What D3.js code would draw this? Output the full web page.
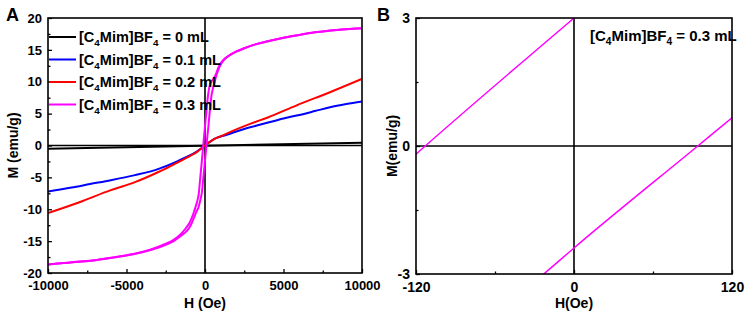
<!DOCTYPE html>
<html>
<head>
<meta charset="utf-8">
<script src="https://cdnjs.cloudflare.com/ajax/libs/d3/7.8.5/d3.min.js"></script>
<style>
body { margin: 0; background: #fff; }
text { font-family: "Liberation Sans", Arial, sans-serif; font-weight: bold; fill: #000; }
</style>
</head>
<body>
<div class="canvas"></div>
<script>
// ---- data ----
// 0 mL
const hBlack = [-10000, 10000];
const mBlack = [-0.5, 0.45];

// 0.1 mL
const hBlue = [-10000, -8500, -7320, -6000, -4460, -3000, -1700, -1000, -500, -200, 0, 200, 500, 740, 1000, 1590, 2500, 3715, 5000, 5840, 7000, 7960, 9000, 10000];
const mBlue = [-7.2, -6.6, -6.05, -5.45, -4.65, -3.7, -2.4, -1.6, -0.9, -0.4, 0, 0.4, 0.9, 1.2, 1.4, 1.85, 2.6, 3.4, 4.25, 4.7, 5.4, 6.0, 6.5, 6.9];

// 0.2 mL
const hRed = [-10000, -8000, -6000, -4460, -3000, -2000, -1700, -1000, -500, -200, 0, 200, 500, 740, 1000, 1590, 3000, 4000, 5840, 8000, 10000];
const mRed = [-10.6, -8.9, -7.0, -5.75, -4.2, -3.0, -2.6, -1.7, -1.0, -0.4, 0, 0.4, 0.9, 1.2, 1.45, 2.1, 3.5, 4.4, 6.3, 8.4, 10.45];

// 0.3 mL, descending branch (upper)
const hPinkDown = [-10000, -9000, -8000, -7000, -6000, -5000, -4000, -3000, -2500, -2000, -1500, -1200, -1000, -850, -700, -600, -500, -400, -300, -200, -113, 0, 100, 200, 300, 400, 550, 700, 850, 1000, 1200, 1500, 2000, 2500, 3000, 4000, 5000, 6000, 7000, 8000, 9000, 10000];
const mPinkDown = [-18.65, -18.45, -18.2, -18.0, -17.6, -17.2, -16.7, -15.9, -15.4, -14.8, -13.8, -12.9, -12.2, -11.4, -10.4, -9.6, -8.8, -7.6, -5.0, -2.4, 0, 3.0, 5.6, 8.0, 9.4, 10.0, 10.5, 11.2, 12.2, 12.9, 13.5, 14.05, 14.75, 15.25, 15.7, 16.35, 16.9, 17.35, 17.75, 18.05, 18.25, 18.4];

// 0.3 mL, ascending branch (lower)
const hPinkUp = [-10000, -9000, -8000, -7000, -6000, -5000, -4000, -3000, -2500, -2000, -1500, -1200, -1000, -850, -700, -550, -400, -300, -200, -100, -23, 0, 94, 120, 200, 300, 400, 500, 600, 700, 850, 1000, 1200, 1500, 2000, 2500, 3000, 4000, 5000, 6000, 7000, 8000, 9000, 10000];
const mPinkUp = [-18.65, -18.45, -18.25, -18.0, -17.65, -17.25, -16.75, -16.05, -15.6, -15.0, -14.1, -13.5, -12.9, -12.2, -11.3, -10.4, -9.6, -8.6, -7.4, -4.9, -3.0, -2.39, 0, 0.66, 2.6, 5.2, 7.6, 8.9, 9.8, 10.8, 11.9, 12.7, 13.4, 14.05, 14.75, 15.25, 15.7, 16.35, 16.9, 17.35, 17.75, 18.05, 18.25, 18.4];

const legendAmounts = ['0', '0.1', '0.2', '0.3'];

// ticks
const ticksAX = [-10000, -5000, 0, 5000, 10000];
const minorAX = [-7500, -2500, 2500, 7500];
const ticksAY = [-20, -15, -10, -5, 0, 5, 10, 15, 20];
const minorAY = [-17.5, -12.5, -7.5, -2.5, 2.5, 7.5, 12.5, 17.5];
const ticksBX = [-120, 0, 120];
const minorBX = [-60, 60];
const ticksBY = [-3, 0, 3];
const minorBY = [-1.5, 1.5];

const zip = (hs, ms) => hs.map((h, i) => ({ h, m: ms[i] }));

const series = [
	{ pts: zip(hBlack, mBlack), color: '#000000' },
	{ pts: zip(hBlue, mBlue), color: '#0000ff' },
	{ pts: zip(hRed, mRed), color: '#ff0000' },
	{ pts: zip(hPinkDown, mPinkDown), color: '#ff00ff' },
	{ pts: zip(hPinkUp, mPinkUp), color: '#ff00ff' }
];
const loop03 = series.slice(3);

const svg = d3.select('.canvas')
	.append('svg')
	.attr('width', 748)
	.attr('height', 318);

// writes "[C4Mim]BF4 = v mL" with subscripts
const formula = (sel, amount, size) => {
	const sub = size * 0.68;
	const shift = size * 0.28;
	sel.append('tspan').text('[C');
	sel.append('tspan').attr('font-size', sub).attr('dy', shift).text('4');
	sel.append('tspan').attr('dy', -shift).text('Mim]BF');
	sel.append('tspan').attr('font-size', sub).attr('dy', shift).text('4');
	sel.append('tspan').attr('dy', -shift).text(` = ${amount} mL`);
};

// plain hyphen for negatives, like the original
const plain = d => String(d);

const drawPanel = (cfg) => {
	const x = d3.scaleLinear().domain(cfg.xDomain).range([cfg.left, cfg.right]);
	const y = d3.scaleLinear().domain(cfg.yDomain).range([cfg.bottom, cfg.top]);
	const g = svg.append('g');

	g.append('clipPath').attr('id', cfg.id)
		.append('rect')
		.attr('x', cfg.left).attr('y', cfg.top)
		.attr('width', cfg.right - cfg.left).attr('height', cfg.bottom - cfg.top);

	// zero lines
	g.append('line')
		.attr('x1', x(0)).attr('x2', x(0)).attr('y1', cfg.top).attr('y2', cfg.bottom)
		.attr('stroke', '#000').attr('stroke-width', 1.6);
	g.append('line')
		.attr('x1', cfg.left).attr('x2', cfg.right).attr('y1', y(0)).attr('y2', y(0))
		.attr('stroke', '#000').attr('stroke-width', 1.6);

	const line = d3.line()
		.x(d => x(d.h))
		.y(d => y(d.m))
		.curve(d3.curveMonotoneX);

	g.append('g').attr('clip-path', `url(#${cfg.id})`)
		.selectAll('path')
		.data(cfg.series)
		.enter()
		.append('path')
		.attr('d', d => line(d.pts))
		.attr('fill', 'none')
		.attr('stroke', d => d.color)
		.attr('stroke-width', cfg.lineWidth);

	// axes, ticks point inwards
	const xAxis = d3.axisBottom(x).tickValues(cfg.xTicks).tickSize(-4).tickPadding(8).tickFormat(plain);
	const xMinor = d3.axisBottom(x).tickValues(cfg.xMinor).tickSize(-2.5).tickFormat('');
	const yAxis = d3.axisLeft(y).tickValues(cfg.yTicks).tickSize(-4).tickPadding(6).tickFormat(plain);
	const yMinor = d3.axisLeft(y).tickValues(cfg.yMinor).tickSize(-2.5).tickFormat('');

	[[xAxis, `translate(0,${cfg.bottom})`], [xMinor, `translate(0,${cfg.bottom})`],
	 [yAxis, `translate(${cfg.left},0)`], [yMinor, `translate(${cfg.left},0)`]].forEach(([ax, tr]) => {
		const a = g.append('g').attr('transform', tr).call(ax);
		a.select('.domain').remove();
		a.selectAll('line').attr('stroke', '#000').attr('stroke-width', 1.3);
		a.selectAll('text')
			.attr('fill', '#000')
			.attr('font-size', cfg.tickFont)
			.attr('font-family', '"Liberation Sans", Arial, sans-serif')
			.attr('font-weight', 'bold');
	});

	// frame
	g.append('rect')
		.attr('x', cfg.left).attr('y', cfg.top)
		.attr('width', cfg.right - cfg.left).attr('height', cfg.bottom - cfg.top)
		.attr('fill', 'none').attr('stroke', '#000').attr('stroke-width', 1.6);

	// titles
	g.append('text')
		.attr('x', (cfg.left + cfg.right) / 2).attr('y', 308)
		.attr('text-anchor', 'middle').attr('font-size', 14)
		.text(cfg.xTitle);
	g.append('text')
		.attr('transform', `translate(${cfg.yTitleX},${(cfg.top + cfg.bottom) / 2}) rotate(-90)`)
		.attr('text-anchor', 'middle').attr('font-size', 14)
		.text(cfg.yTitle);
	g.append('text')
		.attr('x', cfg.letterX).attr('y', 21)
		.attr('font-size', 18)
		.text(cfg.letter);

	return { g, x, y };
};

// panel A: full loops
const A = drawPanel({
	id: 'clipA', left: 48, right: 362, top: 18, bottom: 273,
	xDomain: [-10000, 10000], yDomain: [-20, 20],
	xTicks: ticksAX, xMinor: minorAX, yTicks: ticksAY, yMinor: minorAY,
	series, lineWidth: 2, tickFont: 13,
	xTitle: 'H (Oe)', yTitle: 'M (emu/g)', yTitleX: 18,
	letter: 'A', letterX: 6
});

// legend in panel A
legendAmounts.forEach((amt, i) => {
	const ly = 37 + i * 22.5;
	A.g.append('line')
		.attr('x1', 49).attr('x2', 76).attr('y1', ly).attr('y2', ly)
		.attr('stroke', series[i].color).attr('stroke-width', 2);
	A.g.append('text')
		.attr('x', 79).attr('y', ly + 5)
		.attr('font-size', 14.5)
		.call(formula, amt, 14.5);
});

// panel B: zoom on the 0.3 mL loop around the origin
const B = drawPanel({
	id: 'clipB', left: 416, right: 732, top: 18, bottom: 274,
	xDomain: [-120, 120], yDomain: [-3, 3],
	xTicks: ticksBX, xMinor: minorBX, yTicks: ticksBY, yMinor: minorBY,
	series: loop03, lineWidth: 1.5, tickFont: 14,
	xTitle: 'H(Oe)', yTitle: 'M(emu/g)', yTitleX: 397,
	letter: 'B', letterX: 377
});

B.g.append('text')
	.attr('x', 590).attr('y', 41)
	.attr('font-size', 15)
	.call(formula, legendAmounts[3], 15);
</script>
</body>
</html>
